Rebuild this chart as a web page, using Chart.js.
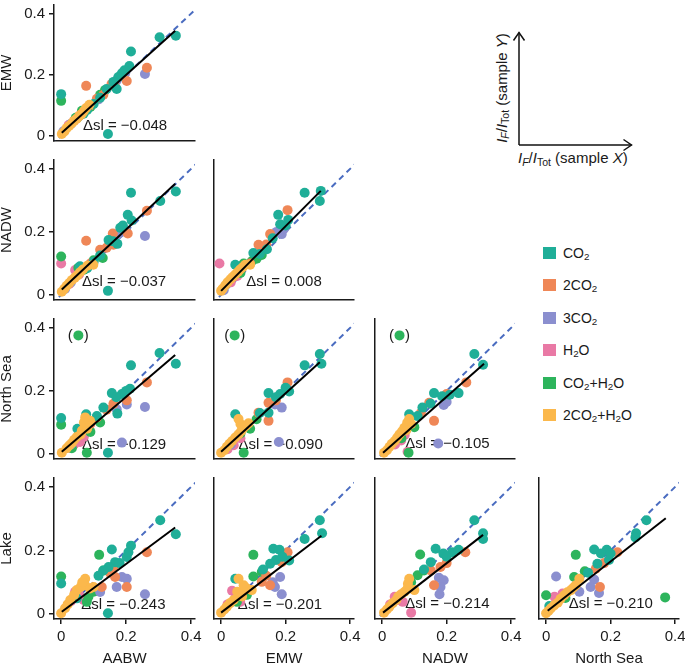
<!DOCTYPE html>
<html>
<head>
<meta charset="utf-8">
<script src="https://cdn.jsdelivr.net/npm/chart.js@4.4.1/dist/chart.umd.min.js"></script>
<style>
html, body { margin: 0; padding: 0; background: #fff; overflow: hidden; }
body { width: 685px; height: 665px; position: relative; font-family: "Liberation Sans", Arial, sans-serif; color: #1a1a1a; }
canvas { position: absolute; }
#legend { position: absolute; left: 543px; top: 247px; font-size: 14px; }
.li { position: absolute; left: 0; height: 12px; white-space: nowrap; }
.sw { position: absolute; left: 0; top: 0; width: 12.5px; height: 12px; }
.lt { position: absolute; left: 20px; top: -2px; line-height: 16px; }
sub { font-size: 0.7em; vertical-align: -0.25em; line-height: 0; }
.note { position: absolute; font-size: 15px; white-space: nowrap; line-height: 16px; }
</style>
</head>
<body>
<svg width="685" height="665" style="position:absolute;left:0;top:0" fill="none" stroke="#111" stroke-width="1.5">
  <line x1="519" y1="145" x2="519" y2="32.5"/>
  <polyline points="513.5,40.5 519,32.5 524.5,40.5"/>
  <line x1="519" y1="145" x2="631.5" y2="145"/>
  <polyline points="623.5,139.5 631.5,145 623.5,150.5"/>
</svg>
<div class="note" style="left:518px;top:150px;"><i>I</i><sub><i>F</i></sub>/<i>I</i><sub>Tot</sub> (sample <i>X</i>)</div>
<div class="note" style="left:444px;top:80px;width:115px;text-align:center;transform:rotate(-90deg);"><i>I</i><sub><i>F</i></sub>/<i>I</i><sub>Tot</sub> (sample <i>Y</i>)</div>
<div id="legend"></div>

<script>
Chart.defaults.font.family = '"Liberation Sans", Arial, sans-serif';
Chart.defaults.color = '#1a1a1a';

// categories and colours
const categories = ['CO<sub>2</sub>', '2CO<sub>2</sub>', '3CO<sub>2</sub>', 'H<sub>2</sub>O', 'CO<sub>2</sub>+H<sub>2</sub>O', '2CO<sub>2</sub>+H<sub>2</sub>O'];
const catColors = ['#1fae98', '#ef8757', '#8b8fcf', '#e979a5', '#2db45c', '#fbb84c'];
const drawOrder = [3, 4, 5, 7, 6, 2];   // lower = on top

const rowNames = ['EMW', 'NADW', 'North Sea', 'Lake'];
const colNames = ['AABW', 'EMW', 'NADW', 'North Sea'];
const tickVals = [0, 0.2, 0.4];
const oneToOne = [-0.03, 0.45];

// points: [x, y, category]
const emwVsAabw = [
  [0,0.137,0],[0.144,0.007,0],[0.215,0.276,0],[0.21,0.229,0],[0.303,0.323,0],[0.353,0.328,0],[0.187,0.205,0],[0.176,0.193,0],
  [0.161,0.177,0],[0.14,0.154,0],[0.171,0.154,0],[0.069,0.073,0],[0.195,0.215,0],[0.12,0.125,0],[0.1,0.105,0],[0.08,0.085,0],[0.05,0.06,0],
  [0.077,0.164,1],[0.264,0.223,1],[0.202,0.18,1],[0.166,0.161,1],[0.13,0.135,1],[0.11,0.122,1],[0.155,0.17,1],[0.09,0.1,1],[0.06,0.07,1],
  [0.258,0.203,2],[0.171,0.182,2],[0.197,0.205,2],[0.115,0.12,2],[0.007,0.016,2],[0.185,0.195,2],[0.03,0.04,2],
  [0.023,0.036,3],[0.04,0.05,3],[0.055,0.065,3],
  [0,0.115,4],[0.12,0.135,4],[0.064,0.083,4],[0.045,0.06,4],[0.09,0.095,4],[0.135,0.15,4],
  [0.002,0.007,5],[0.017,0.026,5],[0.033,0.042,5],[0.048,0.057,5],[0.064,0.073,5],[0.077,0.092,5],[0.087,0.102,5],[0.01,0.015,5],
  [0.025,0.034,5],[0.04,0.05,5],[0.056,0.066,5],[0.07,0.082,5]
];
const nadwVsAabw = [
  [0.215,0.324,0],[0.353,0.328,0],[0.305,0.298,0],[0.205,0.254,0],[0.217,0.236,0],[0.182,0.213,0],[0.146,0.174,0],[0.173,0.162,0],
  [0.144,0.013,0],[0.058,0.091,0],[0.19,0.22,0],[0.12,0.125,0],[0.1,0.105,0],[0.08,0.085,0],[0.16,0.17,0],
  [0.264,0.267,1],[0.205,0.195,1],[0.159,0.195,1],[0.161,0.159,1],[0.077,0.172,1],[0.12,0.143,1],[0.14,0.15,1],[0.09,0.1,1],
  [0.258,0.187,2],[0.2,0.205,2],[0.171,0.19,2],[0.012,0.019,2],[0.185,0.2,2],[0.03,0.04,2],
  [0,0.1,3],[0.043,0.079,3],[0.025,0.035,3],[0.055,0.065,3],
  [0,0.122,4],[0.128,0.117,4],[0.053,0.086,4],[0.07,0.08,4],[0.1,0.11,4],
  [0.002,0.01,5],[0.017,0.029,5],[0.033,0.047,5],[0.05,0.062,5],[0.067,0.081,5],[0.081,0.093,5],[0.099,0.096,5],[0.01,0.02,5],
  [0.025,0.038,5],[0.042,0.055,5],[0.058,0.072,5]
];
const nadwVsEmw = [
  [0.259,0.324,0],[0.309,0.33,0],[0.306,0.298,0],[0.177,0.254,0],[0.208,0.238,0],[0.183,0.224,0],[0.142,0.145,0],[0.1,0.133,0],
  [0.044,0.096,0],[0.16,0.18,0],[0.12,0.13,0],[0.2,0.22,0],
  [0.206,0.269,1],[0.152,0.193,1],[0.116,0.159,1],[0.126,0.148,1],[0.14,0.16,1],[0.09,0.1,1],
  [0.188,0.193,2],[0.172,0.2,2],[0.195,0.21,2],[0.008,0.015,2],
  [-0.005,0.1,3],[0.03,0.04,3],[0.05,0.06,3],
  [0.095,0.107,4],[0.126,0.127,4],[0.07,0.1,4],[0.06,0.07,4],[0.11,0.115,4],
  [0,0.013,5],[0.013,0.031,5],[0.029,0.05,5],[0.044,0.065,5],[0.059,0.081,5],[0.075,0.096,5],[0.09,0.096,5],[0.005,0.02,5],
  [0.02,0.04,5],[0.036,0.057,5],[0.052,0.073,5],[0.067,0.088,5]
];
const nseaVsAabw = [
  [0,0.114,0],[0.077,0.126,0],[0.144,0.004,0],[0.215,0.281,0],[0.303,0.32,0],[0.353,0.286,0],[0.156,0.193,0],[0.187,0.19,0],
  [0.212,0.207,0],[0.173,0.128,0],[0.13,0.147,0],[0.05,0.08,0],[0.2,0.2,0],[0.17,0.18,0],[0.11,0.12,0],
  [0.264,0.227,1],[0.202,0.17,1],[0.161,0.159,1],[0.11,0.116,1],[0.14,0.14,1],[0.09,0.095,1],
  [0.187,0.036,2],[0.258,0.149,2],[0.171,0.142,2],[0.202,0.157,2],[0.03,0.03,2],
  [0.058,0.038,3],[0.04,0.03,3],[0.07,0.055,3],[0.025,0.02,3],
  [0.053,0.376,4],[0,0.093,4],[0.079,0.004,4],[0.033,0.018,4],[0.12,0.1,4],[0.09,0.07,4],
  [0.074,0.116,5],[0.074,0.09,5],[0.064,0.074,5],[0.048,0.054,5],[0.033,0.035,5],[0.017,0.018,5],[0.002,0.004,5],[0.089,0.105,5],
  [0.07,0.1,5],[0.06,0.062,5],[0.08,0.08,5],[0.025,0.027,5],[0.04,0.045,5]
];
const nseaVsEmw = [
  [0.306,0.317,0],[0.311,0.286,0],[0.259,0.281,0],[0.147,0.193,0],[0.183,0.19,0],[0.211,0.198,0],[0.044,0.126,0],[0.147,0.131,0],
  [0.17,0.18,0],[0.12,0.13,0],[0.2,0.21,0],
  [0.206,0.227,1],[0.147,0.162,1],[0.147,0.105,1],[0.116,0.131,1],[0.17,0.17,1],
  [0.188,0.147,2],[0.167,0.157,2],[0.179,0.038,2],[0.03,0.03,2],
  [0.039,0.028,3],[0.06,0.05,3],[0.02,0.015,3],
  [0.042,0.376,4],[0.07,0.004,4],[0.029,0.033,4],[0.09,0.08,4],[0.06,0.065,4],[0.11,0.11,4],
  [0.054,0.111,5],[0,0.004,5],[0.018,0.023,5],[0.034,0.041,5],[0.054,0.062,5],[0.07,0.083,5],[0.085,0.097,5],[0.01,0.012,5],
  [0.026,0.032,5],[0.044,0.052,5],[0.062,0.072,5],[0.078,0.09,5],[0.06,0.095,5]
];
const nseaVsNadw = [
  [0.286,0.317,0],[0.313,0.283,0],[0.237,0.193,0],[0.21,0.188,0],[0.161,0.193,0],[0.186,0.183,0],[0.084,0.126,0],[0.125,0.147,0],
  [0.15,0.16,0],[0.11,0.12,0],
  [0.261,0.227,1],[0.146,0.162,1],[0.161,0.105,1],[0.2,0.19,1],[0.12,0.13,1],
  [0.191,0.155,2],[0.174,0.033,2],[0.2,0.165,2],
  [0.059,0.043,3],[0.079,0.007,3],[0.04,0.03,3],[0.07,0.06,3],
  [0.054,0.376,4],[0.082,0.004,4],[0.1,0.085,4],[0.08,0.09,4],[0.06,0.05,4],
  [0.084,0.111,5],[0.006,0.004,5],[0.023,0.023,5],[0.039,0.041,5],[0.054,0.062,5],[0.069,0.083,5],[0.09,0.095,5],[0.015,0.012,5],
  [0.03,0.032,5],[0.047,0.052,5],[0.062,0.072,5],[0.078,0.1,5],[0.075,0.075,5]
];
const lakeVsAabw = [
  [0.305,0.295,0],[0.353,0.251,0],[0.215,0.215,0],[0.156,0.203,0],[0.202,0.179,0],[0.207,0.194,0],[0,0.096,0],[0.166,0.163,0],
  [0.146,0.148,0],[0.13,0.137,0],[0.144,0.002,0],[0.048,0.049,0],[0.18,0.16,0],[0.115,0.12,0],
  [0.264,0.194,1],[0.161,0.148,1],[0.166,0.116,1],[0.202,0.085,1],[0.125,0.085,1],[0.15,0.13,1],
  [0.187,0.116,2],[0.202,0.111,2],[0.171,0.085,2],[0.258,0.062,2],[0.12,0.069,2],
  [0.043,0.07,3],[0.069,0.044,3],[0.03,0.04,3],[0.055,0.06,3],
  [0.117,0.186,4],[0,0.118,4],[0.13,0.137,4],[0.084,0.054,4],[0.079,0.038,4],[0.1,0.07,4],
  [0.074,0.111,5],[0.074,0.09,5],[0.048,0.075,5],[0.028,0.044,5],[0.012,0.018,5],[0,0.002,5],[0.089,0.08,5],[0.06,0.085,5],
  [0.04,0.06,5],[0.02,0.03,5],[0.065,0.1,5],[0.1,0.085,5]
];
const lakeVsEmw = [
  [0.306,0.295,0],[0.313,0.254,0],[0.259,0.236,0],[0.162,0.205,0],[0.181,0.202,0],[0.211,0.168,0],[0.152,0.158,0],[0.044,0.111,0],
  [0.17,0.17,0],[0.19,0.18,0],[0.13,0.14,0],
  [0.206,0.194,1],[0.188,0.163,1],[0.152,0.09,1],[0.126,0.101,1],[0.14,0.12,1],
  [0.183,0.116,2],[0.167,0.085,2],[0.188,0.062,2],[0.16,0.1,2],
  [0.034,0.073,3],[0.059,0.038,3],[0.02,0.03,3],[0.045,0.05,3],
  [0.1,0.186,4],[0.1,0.118,4],[0.126,0.132,4],[0.049,0.038,4],[0.08,0.06,4],
  [0.054,0.111,5],[0,0.004,5],[0.018,0.023,5],[0.039,0.044,5],[0.059,0.064,5],[0.08,0.08,5],[0.095,0.075,5],[0.01,0.014,5],
  [0.028,0.034,5],[0.05,0.07,5],[0.07,0.09,5],[0.065,0.055,5]
];
const lakeVsNadw = [
  [0.286,0.295,0],[0.313,0.254,0],[0.313,0.236,0],[0.166,0.205,0],[0.217,0.194,0],[0.237,0.202,0],[0.151,0.163,0],[0.19,0.19,0],
  [0.2,0.18,0],[0.13,0.14,0],
  [0.258,0.194,1],[0.181,0.148,1],[0.151,0.137,1],[0.161,0.09,1],[0.2,0.16,1],
  [0.176,0.114,2],[0.191,0.106,2],[0.181,0.085,2],[0.178,0.062,2],
  [0.039,0.054,3],[0.09,0.004,3],[0.064,0.038,3],[0.05,0.045,3],[0.025,0.03,3],
  [0.118,0.187,4],[0.11,0.122,4],[0.13,0.137,4],[0.09,0.1,4],
  [0.084,0.111,5],[0.006,0.004,5],[0.023,0.023,5],[0.044,0.044,5],[0.059,0.062,5],[0.079,0.08,5],[0.1,0.075,5],[0.015,0.014,5],
  [0.033,0.034,5],[0.05,0.055,5],[0.07,0.07,5],[0.08,0.095,5]
];
const lakeVsNsea = [
  [0.311,0.295,0],[0.279,0.254,0],[0.277,0.241,0],[0.149,0.203,0],[0.188,0.202,0],[0.195,0.17,0],[0.159,0.158,0],[0.01,0.025,0],
  [0.17,0.19,0],[0.2,0.19,0],[0.13,0.13,0],
  [0.221,0.194,1],[0.154,0.142,1],[0.167,0.085,1],[0.18,0.16,1],
  [0.031,0.118,2],[0.149,0.108,2],[0.138,0.085,2],[0.164,0.066,2],[0.103,0.07,2],
  [0.026,0.054,3],[0.051,0.064,3],[0.04,0.045,3],
  [0.092,0.186,4],[0.12,0.134,4],[0.087,0.116,4],[0.369,0.052,4],[0,0.059,4],[0.06,0.05,4],
  [0.103,0.111,5],[0,0.002,5],[0.015,0.018,5],[0.036,0.035,5],[0.056,0.059,5],[0.077,0.075,5],[0.092,0.09,5],[0.008,0.01,5],
  [0.025,0.027,5],[0.045,0.048,5],[0.066,0.068,5],[0.085,0.083,5]
];

// fitted lines [x0, y0, x1, y1], slope differences, label anchors
const fitLines = [
  [0.002,0.011,0.351,0.344], [0.002,0.017,0.351,0.353], [0,0.013,0.309,0.33],
  [0.002,0.007,0.351,0.314], [0,0.007,0.306,0.291], [0.003,0.004,0.316,0.286],
  [0.002,0.007,0.351,0.272], [0,0.004,0.311,0.246], [0.003,0.004,0.313,0.249], [0.005,0.01,0.371,0.301]
];
const deltaSl = [-0.048, -0.037, 0.008, -0.129, -0.090, -0.105, -0.243, -0.201, -0.214, -0.210];
const labelAt = [
  [0.067,0.033], [0.064,0.041], [0.078,0.041],
  [0.064,0.028], [0.054,0.028], [0.072,0.031],
  [0.062,0.030], [0.052,0.030], [0.072,0.031], [0.070,0.031]
];

const panels = [
  {row:0, col:0, pts: emwVsAabw},
  {row:1, col:0, pts: nadwVsAabw}, {row:1, col:1, pts: nadwVsEmw},
  {row:2, col:0, pts: nseaVsAabw}, {row:2, col:1, pts: nseaVsEmw}, {row:2, col:2, pts: nseaVsNadw},
  {row:3, col:0, pts: lakeVsAabw}, {row:3, col:1, pts: lakeVsEmw}, {row:3, col:2, pts: lakeVsNadw}, {row:3, col:3, pts: lakeVsNsea}
];
const outlierRow = 2;   // the bracketed CO2+H2O point

// layout
const colLeft = [54, 213, 374, 538];
const rowBottom = [142, 301, 460, 619];
const plotW = 141, plotH = 142;
const xMin = -0.022, xMax = 0.412, yMin = -0.016, yMax = 0.428;
const ink = '#1a1a1a';

var fmt = (d) => (d < 0 ? '\u2212' : '') + Math.abs(d).toFixed(3);

const notes = {
  id: 'notes',
  beforeDatasetsDraw(chart, args, opts) {
    const {ctx, scales: {x, y}} = chart;
    ctx.save();
    ctx.font = '15px "Liberation Sans", Arial, sans-serif';
    ctx.fillStyle = ink;
    ctx.textBaseline = 'middle';
    ctx.textAlign = 'left';
    ctx.fillText('\u0394sl = ' + fmt(opts.dsl), x.getPixelForValue(opts.at[0]), y.getPixelForValue(opts.at[1]));
    if (opts.paren) {
      const px = x.getPixelForValue(opts.paren[0]), py = y.getPixelForValue(opts.paren[1]);
      ctx.textAlign = 'right';
      ctx.fillText('(', px - 5.5, py);
      ctx.textAlign = 'left';
      ctx.fillText(')', px + 5.5, py);
    }
    ctx.restore();
  }
};

function makePanel(p, i) {
  const first = p.col === 0, last = p.row === 3;
  const leftW = first ? 54 : 4;
  const bottomH = last ? 49 : 4;
  const padR = 10, padT = p.row === 0 ? 0 : 4;
  const cv = document.createElement('canvas');
  cv.width = leftW + plotW + padR;
  cv.height = padT + plotH + bottomH;
  cv.style.left = (colLeft[p.col] - leftW) + 'px';
  cv.style.top = (rowBottom[p.row] - plotH - padT) + 'px';
  document.body.appendChild(cv);

  const datasets = categories.map((c, k) => ({
    label: c,
    data: p.pts.filter(q => q[2] === k).map(q => ({x: q[0], y: q[1]})),
    backgroundColor: catColors[k],
    pointRadius: 5,
    pointBorderWidth: 0,
    order: drawOrder[k]
  }));
  datasets.push({
    label: '1:1',
    data: oneToOne.map(v => ({x: v, y: v})),
    showLine: true, borderColor: '#4a6cc0', borderWidth: 2, borderDash: [6, 4.5],
    pointRadius: 0, order: 9
  });
  const f = fitLines[i];
  datasets.push({
    label: 'fit',
    data: [{x: f[0], y: f[1]}, {x: f[2], y: f[3]}],
    showLine: true, borderColor: '#000', borderWidth: 2,
    pointRadius: 0, order: 0
  });

  let paren = null;
  if (p.row === outlierRow) {
    const o = p.pts.filter(q => q[2] === 4).reduce((a, b) => (b[1] > a[1] ? b : a));
    paren = [o[0], o[1]];
  }

  new Chart(cv, {
    type: 'scatter',
    data: {datasets},
    options: {
      responsive: false,
      animation: false,
      events: [],
      layout: {padding: {left: 0, right: padR, top: padT, bottom: 0}},
      plugins: {
        legend: {display: false},
        tooltip: {enabled: false},
        notes: {dsl: deltaSl[i], at: labelAt[i], paren}
      },
      scales: {
        x: {
          type: 'linear', min: xMin, max: xMax,
          afterBuildTicks: s => { s.ticks = tickVals.map(v => ({value: v})); },
          afterFit: s => { s.height = bottomH; s.paddingLeft = 0; s.paddingRight = 0; },
          grid: {display: last, drawOnChartArea: false, drawTicks: true, tickLength: 5, color: ink, lineWidth: 1.5},
          border: {display: true, color: ink, width: 1.5},
          ticks: {display: last, font: {size: 15}, color: ink, padding: 4, maxRotation: 0, autoSkip: false,
                  callback: v => (v === 0 ? '0' : String(v))},
          title: {display: last, text: colNames[p.col], font: {size: 15}, color: ink, padding: {top: 0, bottom: 0}}
        },
        y: {
          type: 'linear', min: yMin, max: yMax,
          afterBuildTicks: s => { s.ticks = tickVals.map(v => ({value: v})); },
          afterFit: s => { s.width = leftW; s.paddingTop = 0; s.paddingBottom = 0; },
          grid: {display: first, drawOnChartArea: false, drawTicks: true, tickLength: 5, color: ink, lineWidth: 1.5},
          border: {display: true, color: ink, width: 1.5},
          ticks: {display: first, font: {size: 15}, color: ink, padding: 4, autoSkip: false,
                  callback: v => (v === 0 ? '0' : String(v))},
          title: {display: first, text: rowNames[p.row], font: {size: 15, lineHeight: 0.9}, color: ink, padding: {top: 0, bottom: 0}}
        }
      }
    },
    plugins: [notes]
  });
}

panels.forEach(makePanel);

// legend
var legendEl = document.getElementById('legend');
categories.forEach((c, k) => {
  let row = document.createElement('div');
  row.className = 'li';
  row.style.top = (k * 32.4) + 'px';
  row.innerHTML = '<span class="sw" style="background:' + catColors[k] + '"></span><span class="lt">' + c + '</span>';
  legendEl.appendChild(row);
});
</script>
</body>
</html>
